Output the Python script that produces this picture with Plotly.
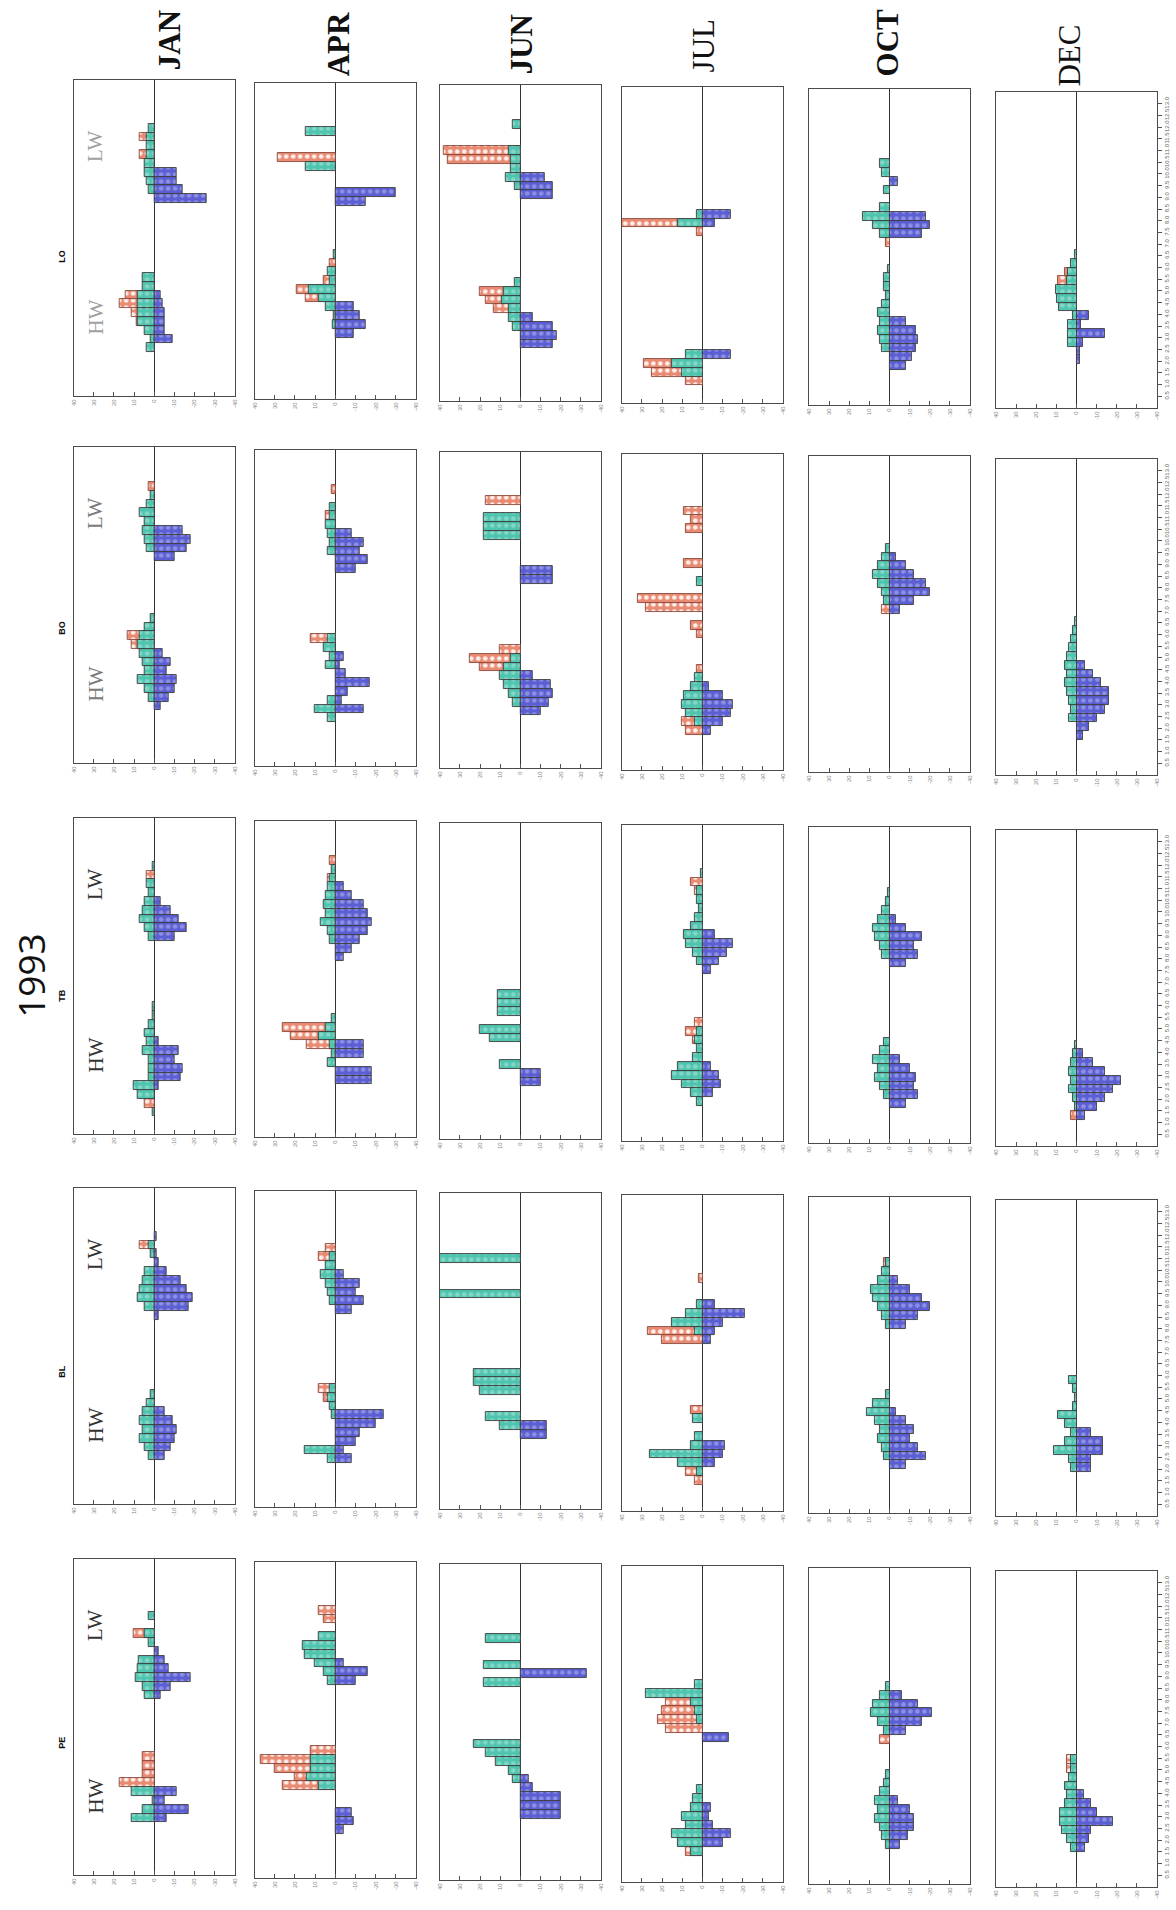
import plotly.graph_objects as go

# ---------------------------------------------------------------------------
# Data: frequency of positive (red = surface, green = mid-depth) and negative
# (blue) readings per tidal-phase bin, for each station and month of 1993.
# Each dict maps bin index (0 = start of tidal cycle) -> value.
# Months are ordered JAN, APR, JUN, JUL, OCT, DEC.
# ---------------------------------------------------------------------------
MONTHS = ["JAN", "APR", "JUN", "JUL", "OCT", "DEC"]
STATIONS = ["LO", "BO", "TB", "BL", "PE"]

BIN_HOURS = 0.375
N_BINS = 36
HOUR_TICKS = [0.5 * k for k in range(1, 27)]
HOUR_LABELS = [f"{h:.1f}" for h in HOUR_TICKS]
VALUE_TICKS = [40, 30, 20, 10, 0, -10, -20, -30, -40]
VALUE_LABELS = ["40", "30", "20", "10", "0", "-10", "-20", "-30", "-40"]

LO_red = [
    {29: 7, 27: 7, 11: 14, 10: 17, 9: 11, 8: 8.5},
    {27: 28.7, 15: 3, 13: 6, 12: 19, 11: 14.5},
    {28: 38, 27: 36, 12: 20, 11: 17, 10: 13},
    {20: 40, 19: 3, 4: 29, 3: 25, 2: 8},
    {18: 2},
    {15: 6, 14: 9},
]
LO_green = [
    {30: 3, 29: 4, 28: 4, 27: 4, 26: 5, 25: 5, 24: 4, 23: 3, 13: 6, 12: 6, 11: 8,
     10: 8, 9: 8, 8: 8, 7: 5, 6: 2, 5: 4},
    {30: 14.5, 26: 14.5, 16: 1, 14: 3.7, 13: 3, 12: 13, 11: 8, 10: 5, 9: 1, 8: 1.5},
    {31: 4, 28: 6, 27: 5, 26: 5, 25: 7, 24: 3, 13: 3, 12: 8, 11: 9, 10: 6, 9: 6, 8: 4},
    {21: 3, 20: 12, 5: 8, 4: 15, 3: 10},
    {27: 5, 26: 4, 24: 3, 22: 5, 21: 13, 20: 8, 19: 5, 15: 1, 14: 3, 13: 3, 12: 2,
     11: 4, 10: 6, 9: 5, 8: 6, 7: 5, 6: 4},
    {17: 1, 16: 3, 15: 4.5, 14: 5, 13: 10, 12: 9.5, 11: 8.5, 10: 2, 9: 4.5, 8: 4.5, 7: 4.5},
]
LO_blue = [
    {25: 11, 24: 11, 23: 14, 22: 26, 11: 3, 10: 4, 9: 5, 8: 5, 7: 5, 6: 9},
    {23: 30, 22: 15, 10: 9, 9: 12, 8: 15, 7: 9},
    {25: 12, 24: 16, 23: 16, 9: 6, 8: 16, 7: 18, 6: 16},
    {21: 14, 20: 6, 5: 14},
    {25: 4, 21: 18, 20: 20, 19: 16, 9: 8, 8: 13, 7: 14, 6: 13, 5: 11, 4: 8},
    {10: 6, 9: 2, 8: 14, 7: 3, 6: 1.5, 5: 1.5},
]

BO_red = [
    {31: 3, 14: 13, 13: 11},
    {31: 2, 28: 5, 14: 12},
    {30: 17, 13: 10, 12: 25, 11: 20},
    {29: 9, 28: 6, 27: 8, 23: 9, 19: 32, 18: 28, 16: 6, 15: 3, 11: 3, 5: 10, 4: 8},
    {18: 4},
    {},
]
BO_green = [
    {30: 2, 29: 4, 28: 7, 27: 5, 26: 6, 25: 5, 24: 4, 16: 2, 15: 5, 14: 7, 13: 8,
     12: 7, 11: 6, 10: 5, 9: 8, 8: 5, 7: 3},
    {29: 3, 28: 3, 27: 5, 26: 4, 25: 3, 24: 4, 14: 4, 13: 6, 12: 3, 11: 5, 7: 4, 6: 10, 5: 4},
    {28: 18, 27: 18, 26: 18, 12: 5, 11: 8, 10: 10, 9: 8, 8: 6, 7: 4},
    {21: 3, 10: 4, 9: 6, 8: 9, 7: 10, 6: 8, 5: 4},
    {25: 2, 24: 4, 23: 6, 22: 8, 21: 6, 20: 4, 19: 3},
    {17: 1, 16: 2, 15: 3, 14: 4, 13: 5, 12: 6, 11: 5, 10: 6, 9: 5, 8: 4, 7: 3, 6: 4},
]
BO_blue = [
    {26: 14, 25: 18, 24: 16, 23: 10, 12: 4, 11: 8, 10: 6, 9: 11, 8: 10, 7: 7, 6: 3},
    {26: 8, 25: 14, 24: 12, 23: 16, 22: 10, 12: 4, 11: 2, 10: 5, 9: 17, 8: 6, 7: 3, 6: 14},
    {22: 16, 21: 16, 10: 6, 9: 15, 8: 16, 7: 14, 6: 10},
    {9: 3, 8: 10, 7: 15, 6: 14, 5: 10, 4: 4},
    {24: 3, 23: 8, 22: 12, 21: 18, 20: 20, 19: 12, 18: 5},
    {12: 4, 11: 8, 10: 12, 9: 16, 8: 16, 7: 14, 6: 10, 5: 6, 4: 3},
]

TB_red = [
    {29: 4, 3: 5},
    {31: 3, 29: 4, 12: 26, 11: 22, 10: 14},
    {},
    {29: 6, 28: 4, 13: 4, 12: 8, 11: 5},
    {},
    {3: 3},
]
TB_green = [
    {30: 1, 28: 4, 27: 3, 26: 5, 25: 6, 24: 7, 23: 5, 22: 3, 14: 1, 13: 1, 12: 3,
     11: 5, 10: 4, 9: 6, 8: 3, 7: 3, 6: 3, 5: 10, 4: 8, 2: 1},
    {30: 2, 29: 3, 28: 4, 27: 5, 26: 6, 25: 5, 24: 7, 23: 4, 22: 3, 13: 2, 12: 5,
     11: 8, 10: 3, 9: 2, 8: 4},
    {16: 11, 15: 11, 14: 11, 12: 20, 11: 15, 8: 10},
    {30: 1, 28: 3, 27: 3, 26: 2, 25: 4, 24: 6, 23: 9, 22: 8, 21: 5, 20: 3, 12: 3,
     11: 4, 10: 3, 9: 5, 8: 12, 7: 15, 6: 10, 5: 6, 4: 3},
    {28: 1, 27: 2, 26: 4, 25: 6, 24: 8, 23: 7, 22: 5, 21: 4, 11: 3, 10: 5, 9: 8,
     8: 6, 7: 7, 6: 5, 5: 3},
    {11: 1, 10: 2, 9: 3, 8: 4, 7: 3, 6: 4, 5: 2, 4: 1},
]
TB_blue = [
    {26: 3, 25: 8, 24: 12, 23: 16, 22: 10, 10: 2, 9: 12, 8: 10, 7: 14, 6: 13, 5: 2},
    {28: 4, 27: 8, 26: 14, 25: 16, 24: 18, 23: 16, 22: 12, 21: 8, 20: 4, 10: 14,
     9: 14, 7: 18, 6: 18},
    {7: 10, 6: 10},
    {23: 6, 22: 15, 21: 12, 20: 8, 19: 4, 8: 4, 7: 8, 6: 9, 5: 5},
    {25: 3, 24: 8, 23: 16, 22: 12, 21: 14, 20: 8, 9: 5, 8: 10, 7: 13, 6: 12, 5: 14, 4: 8},
    {10: 3, 9: 8, 8: 14, 7: 22, 6: 18, 5: 14, 4: 10, 3: 4},
]

BL_red = [
    {29: 7, 11: 3},
    {29: 5, 28: 8, 13: 8, 12: 6},
    {},
    {26: 2, 20: 27, 19: 20, 11: 6, 4: 8, 3: 4},
    {28: 3},
    {},
]
BL_green = [
    {29: 3, 28: 2, 26: 5, 25: 6, 24: 7, 23: 8, 22: 5, 12: 2, 11: 4, 10: 6, 9: 7,
     8: 6, 7: 7, 6: 5, 5: 3},
    {28: 3, 27: 5, 26: 7, 25: 5, 24: 4, 23: 3, 13: 3, 12: 4, 11: 3, 10: 2, 6: 15, 5: 4},
    {28: 40, 24: 40, 15: 23, 14: 23, 13: 20, 10: 17, 9: 10},
    {23: 3, 22: 8, 21: 15, 20: 4, 10: 5, 8: 4, 7: 6, 6: 26, 5: 12, 4: 3},
    {28: 2, 27: 4, 26: 6, 25: 9, 24: 8, 23: 6, 22: 4, 21: 2, 13: 2, 12: 8, 11: 11,
     10: 7, 9: 5, 8: 6, 7: 4, 6: 3},
    {15: 4, 14: 2, 13: 1, 12: 2, 11: 9, 10: 6, 9: 3, 8: 6, 7: 11, 6: 4, 5: 3},
]
BL_blue = [
    {30: 1, 28: 1, 27: 2, 26: 6, 25: 13, 24: 16, 23: 19, 22: 17, 21: 2, 10: 5,
     9: 9, 8: 11, 7: 10, 6: 8, 5: 5},
    {26: 4, 25: 12, 24: 10, 23: 14, 22: 8, 10: 24, 9: 20, 8: 12, 7: 10, 6: 4, 5: 8},
    {9: 13, 8: 13},
    {23: 6, 22: 21, 21: 10, 20: 6, 19: 4, 7: 11, 6: 10, 5: 6},
    {26: 4, 25: 10, 24: 16, 23: 20, 22: 14, 21: 8, 11: 3, 10: 8, 9: 12, 8: 10,
     7: 14, 6: 18, 5: 8},
    {9: 7, 8: 13, 7: 13, 6: 7, 5: 7},
]

PE_red = [
    {27: 10, 13: 6, 12: 6, 11: 6, 10: 17},
    {30: 8, 29: 6, 14: 12, 13: 37, 12: 30, 11: 20, 10: 26},
    {},
    {20: 18, 19: 20, 18: 22, 17: 18, 3: 8},
    {16: 5},
    {14: 5, 13: 5},
]
PE_green = [
    {29: 3, 27: 5, 26: 3, 24: 7.5, 23: 8, 22: 9, 21: 6, 20: 5, 9: 11, 8: 1, 7: 6, 6: 11},
    {27: 8, 26: 16, 25: 15, 24: 10, 23: 6, 22: 4, 13: 12, 12: 12, 11: 14, 10: 8},
    {27: 17, 24: 18, 22: 18, 15: 23, 14: 17, 13: 12, 12: 6, 11: 4},
    {22: 4, 21: 28, 20: 6, 19: 4, 18: 3, 10: 3, 9: 5, 8: 6, 7: 10, 6: 8, 5: 15, 4: 12, 3: 6},
    {22: 2, 21: 5, 20: 8, 19: 9, 18: 6, 17: 3, 12: 2, 11: 3, 10: 5, 9: 7, 8: 6,
     7: 7, 6: 5, 5: 4, 4: 2},
    {14: 3, 13: 3, 12: 4, 11: 6, 10: 5, 9: 6, 8: 8, 7: 8, 6: 7, 5: 5, 4: 3},
]
PE_blue = [
    {25: 2, 24: 5, 23: 7, 22: 18, 21: 8, 20: 3, 9: 11, 8: 5, 7: 17, 6: 6},
    {24: 4, 23: 16, 22: 10, 7: 8, 6: 9, 5: 4},
    {23: 33, 11: 4, 10: 6, 9: 20, 8: 20, 7: 20},
    {16: 13, 8: 4, 7: 3, 6: 5, 5: 14, 4: 10},
    {21: 6, 20: 14, 19: 21, 18: 16, 17: 8, 9: 4, 8: 10, 7: 12, 6: 12, 5: 9, 4: 5},
    {10: 3.5, 9: 7, 8: 10, 7: 18, 6: 7, 5: 6, 4: 4},
]

STATION_SERIES = {
    "LO": (LO_red, LO_green, LO_blue),
    "BO": (BO_red, BO_green, BO_blue),
    "TB": (TB_red, TB_green, TB_blue),
    "BL": (BL_red, BL_green, BL_blue),
    "PE": (PE_red, PE_green, PE_blue),
}

# ---------------------------------------------------------------------------
# Page geometry (pixels on a 1176 x 1910 page, rotated layout)
# ---------------------------------------------------------------------------
W, H = 1176, 1910
COL_LEFT = [71, 253, 439, 622, 810, 998]
COL_SHIFT = [0, 3, 5, 7, 9, 12]
PANEL_W = 162
ROW_TOP = [80, 447, 818, 1188, 1559]
PANEL_H = 316

RED = "#E98A72"
GREEN = "#4FC4AE"
BLUE = "#5B5FD3"
EDGE = "#3d3d3d"


def fx(px):
    return px / W


def fy(py):
    return 1 - py / H


def bar_style(color, edge, dots):
    return dict(
        color=color,
        line=dict(color=edge, width=0.9),
        pattern=dict(shape=".", fillmode="overlay", fgcolor="white",
                     fgopacity=dots, size=7, solidity=0.35),
    )


fig = go.Figure()
layout_axes = {}
k = 0
for r, st in enumerate(STATIONS):
    reds, greens, blues = STATION_SERIES[st]
    for c, mon in enumerate(MONTHS):
        k += 1
        xa = "x" if k == 1 else f"x{k}"
        ya = "y" if k == 1 else f"y{k}"
        for series, color, edge, sign, dots in (
            (reds[c], RED, "#8a4a3c", 1, 0.85),
            (greens[c], GREEN, EDGE, 1, 0.3),
            (blues[c], BLUE, EDGE, -1, 0.3),
        ):
            if not series:
                continue
            bins = sorted(series)
            fig.add_trace(go.Bar(
                orientation="h",
                y=[BIN_HOURS * (b + 0.5) for b in bins],
                x=[sign * series[b] for b in bins],
                width=BIN_HOURS,
                marker=bar_style(color, edge, dots),
                xaxis=xa, yaxis=ya,
                showlegend=False, hoverinfo="skip",
            ))

        left = COL_LEFT[c]
        top = ROW_TOP[r] + COL_SHIFT[c]
        xkey = "xaxis" if k == 1 else f"xaxis{k}"
        ykey = "yaxis" if k == 1 else f"yaxis{k}"
        layout_axes[xkey] = dict(
            domain=[fx(left), fx(left + PANEL_W)],
            anchor=ya, range=[40, -40],
            tickvals=VALUE_TICKS, ticktext=VALUE_LABELS,
            tickangle=-90, ticks="inside", ticklen=4, tickcolor="#555",
            tickfont=dict(size=6, color="#888", family="Liberation Sans"),
            showline=True, mirror=True, linecolor="#4a4a4a", linewidth=1,
            zeroline=True, zerolinecolor="#333", zerolinewidth=1.2,
            showgrid=False, fixedrange=True,
        )
        yaxis = dict(
            domain=[fy(top + PANEL_H), fy(top)],
            anchor=xa, range=[0, N_BINS * BIN_HOURS],
            showline=True, mirror=True, linecolor="#4a4a4a", linewidth=1,
            zeroline=False, showgrid=False, fixedrange=True,
        )
        if c == len(MONTHS) - 1:
            yaxis.update(
                side="right", tickvals=HOUR_TICKS, ticktext=HOUR_LABELS,
                ticks="outside", ticklen=4, tickcolor="#555", tickangle=-90,
                tickfont=dict(size=6, color="#666", family="Liberation Sans"),
            )
        else:
            yaxis.update(showticklabels=False, ticks="")
        layout_axes[ykey] = yaxis

annotations = []

# Month headings
MONTH_POS = [(167, 40), (338, 44), (522, 44), (704, 46), (890, 42), (1072, 56)]
MONTH_BOLD = [True, True, True, False, True, False]
for mon, (px, py), bold in zip(MONTHS, MONTH_POS, MONTH_BOLD):
    annotations.append(dict(
        x=fx(px), y=fy(py), xref="paper", yref="paper",
        text=f"<b>{mon}</b>" if bold else mon, showarrow=False, textangle=-90,
        font=dict(family="Liberation Serif", size=31, color="#111"),
        xanchor="center", yanchor="middle",
    ))

# Station codes
STATION_Y = [256, 628, 996, 1371, 1743]
for st, py in zip(STATIONS, STATION_Y):
    annotations.append(dict(
        x=fx(59), y=fy(py), xref="paper", yref="paper",
        text=f"<b>{st}</b>", showarrow=False, textangle=-90,
        font=dict(family="Liberation Sans", size=9, color="#111"),
        xanchor="center", yanchor="middle",
    ))

# Year
annotations.append(dict(
    x=fx(27), y=fy(975), xref="paper", yref="paper",
    text="1993", showarrow=False, textangle=-90,
    font=dict(family="Open Sans", size=37, color="#111"),
    xanchor="center", yanchor="middle",
))

# High-water / low-water markers in the first column
PHASE_COLOR = ["#a0a0a0", "#7a7a7a", "#333", "#333", "#333"]
for r, col in enumerate(PHASE_COLOR):
    top = ROW_TOP[r]
    for label, frac in (("HW", 0.75), ("LW", 0.21)):
        annotations.append(dict(
            x=fx(93), y=fy(top + frac * PANEL_H), xref="paper", yref="paper",
            text=label, showarrow=False, textangle=-90,
            font=dict(family="Liberation Serif", size=21, color=col),
            xanchor="center", yanchor="middle",
        ))

fig.update_layout(
    width=W, height=H,
    margin=dict(l=0, r=0, t=0, b=0),
    paper_bgcolor="white", plot_bgcolor="white",
    barmode="overlay", bargap=0,
    showlegend=False,
    annotations=annotations,
    **layout_axes,
)

fig.write_html("out.html")
